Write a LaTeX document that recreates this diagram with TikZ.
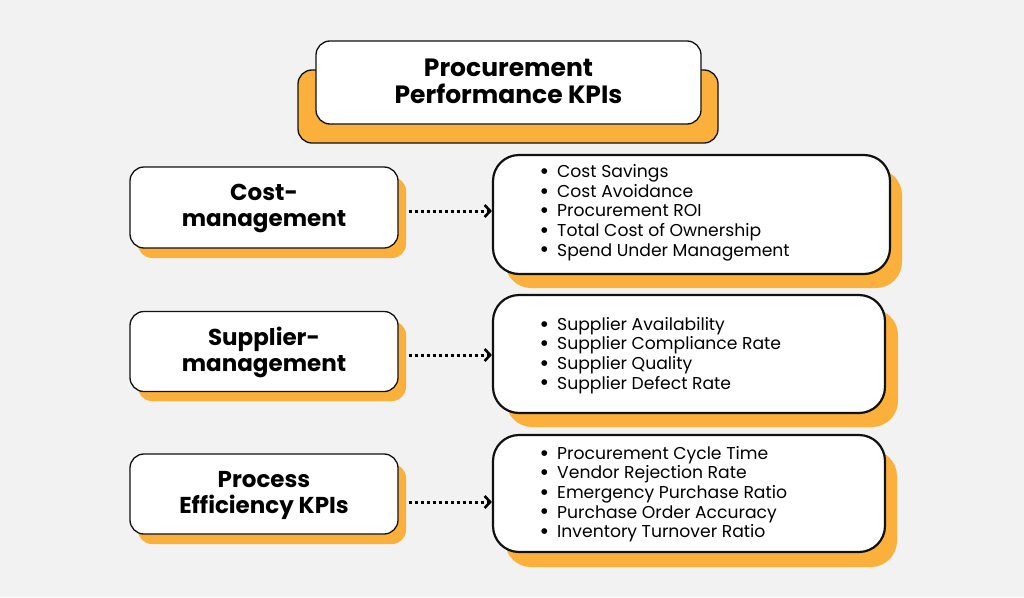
\documentclass[tikz,border=0pt]{standalone}
\usepackage{fontspec}
\setmainfont{Poppins}
\newfontfamily\symf{DejaVu Sans}
\usetikzlibrary{arrows.meta,positioning}
\definecolor{bg}{HTML}{F2F2F2}
\definecolor{org}{HTML}{FBB03B}
\definecolor{ink}{HTML}{111111}
\tikzset{
  x=1pt,y=-1pt,
  headbox/.style={draw=ink,line width=1.3pt,fill=white,rounded corners=14pt,inner sep=0pt},
  headtext/.style={inner sep=0pt,align=center,font=\fontsize{23}{26}\selectfont\bfseries},
  titletext/.style={inner sep=0pt,align=center,font=\fontsize{25}{27.5}\selectfont\bfseries},
  headshadow/.style={fill=org,rounded corners=14pt,inner sep=0pt},
  listbox/.style={draw=ink,line width=2.2pt,fill=white,rounded corners=26pt,inner sep=0pt},
  listshadow/.style={fill=org,rounded corners=26pt,inner sep=0pt},
  listtext/.style={anchor=north west,inner sep=0pt,align=left,font=\fontsize{17.2}{19.6}\selectfont},
  dotarrow/.style={line width=3pt,dash pattern=on 3pt off 3pt,-{Straight Barb[length=5.5pt,width=12pt,line width=2.6pt]}}
}
\newcommand{\bl}{\makebox[16pt][l]{\raisebox{0.45ex}{\fontsize{7.5}{7.5}\symf ●}}}
\begin{document}
\begin{tikzpicture}
\fill[bg] (0,0) rectangle (1024,597);
\useasboundingbox (0,0) rectangle (1024,597);
% title
\node[draw=ink,line width=1.3pt,fill=org,rounded corners=14pt,minimum width=420pt,minimum height=73pt] (titleshadow) at (508,106.5) {};
\node[headbox,minimum width=385pt,minimum height=83pt] (title) at (508.5,82.5) {};
\node[titletext] (titlet) at ([yshift=1pt]title.center) {Procurement\\Performance KPIs};
% left boxes
\node[headshadow,minimum width=268pt,minimum height=81pt] (c1s) at (272,217.5) {};
\node[headbox,minimum width=268pt,minimum height=81pt] (c1) at (264,207.5) {};
\node[headtext] (c1t) at ([yshift=-1pt]c1.center) {Cost-\\management};
\node[headshadow,minimum width=268pt,minimum height=80pt] (c2s) at (272,361) {};
\node[headbox,minimum width=268pt,minimum height=80pt] (c2) at (264,351.5) {};
\node[headtext] (c2t) at ([yshift=-1pt]c2.center) {Supplier-\\management};
\node[headshadow,minimum width=268pt,minimum height=80pt] (c3s) at (272,504) {};
\node[headbox,minimum width=268pt,minimum height=80pt] (c3) at (264,494) {};
\node[headtext] (c3t) at ([yshift=-1pt]c3.center) {Process\\Efficiency KPIs};
% right boxes
\node[listshadow,minimum width=397pt,minimum height=119pt] (l1s) at (703.5,228.5) {};
\node[listbox,minimum width=397pt,minimum height=119pt] (l1) at (691.5,214.5) {};
\node[listshadow,minimum width=392pt,minimum height=118pt] (l2s) at (702,368) {};
\node[listbox,minimum width=392pt,minimum height=118pt] (l2) at (689,354) {};
\node[listshadow,minimum width=392pt,minimum height=117pt] (l3s) at (701,508.5) {};
\node[listbox,minimum width=392pt,minimum height=117pt] (l3) at (689,493.5) {};
% list texts
\node[listtext] (t1) at (541,164.5) {\bl Cost Savings\\\bl Cost Avoidance\\\bl Procurement ROI\\\bl Total Cost of Ownership\\\bl Spend Under Management};
\node[listtext] (t2) at (541,317) {\bl Supplier Availability\\\bl Supplier Compliance Rate\\\bl Supplier Quality\\\bl Supplier Defect Rate};
\node[listtext] (t3) at (541,446) {\bl Procurement Cycle Time\\\bl Vendor Rejection Rate\\\bl Emergency Purchase Ratio\\\bl Purchase Order Accuracy\\\bl Inventory Turnover Ratio};
% arrows
\draw[dotarrow] ([xshift=10pt]c1.east |- 0,211) -- (l1.west |- 0,211);
\draw[dotarrow] ([xshift=10pt]c2.east |- 0,355) -- (l2.west |- 0,355);
\draw[dotarrow] ([xshift=10pt]c3.east |- 0,502) -- (l3.west |- 0,502);
\end{tikzpicture}
\end{document}
